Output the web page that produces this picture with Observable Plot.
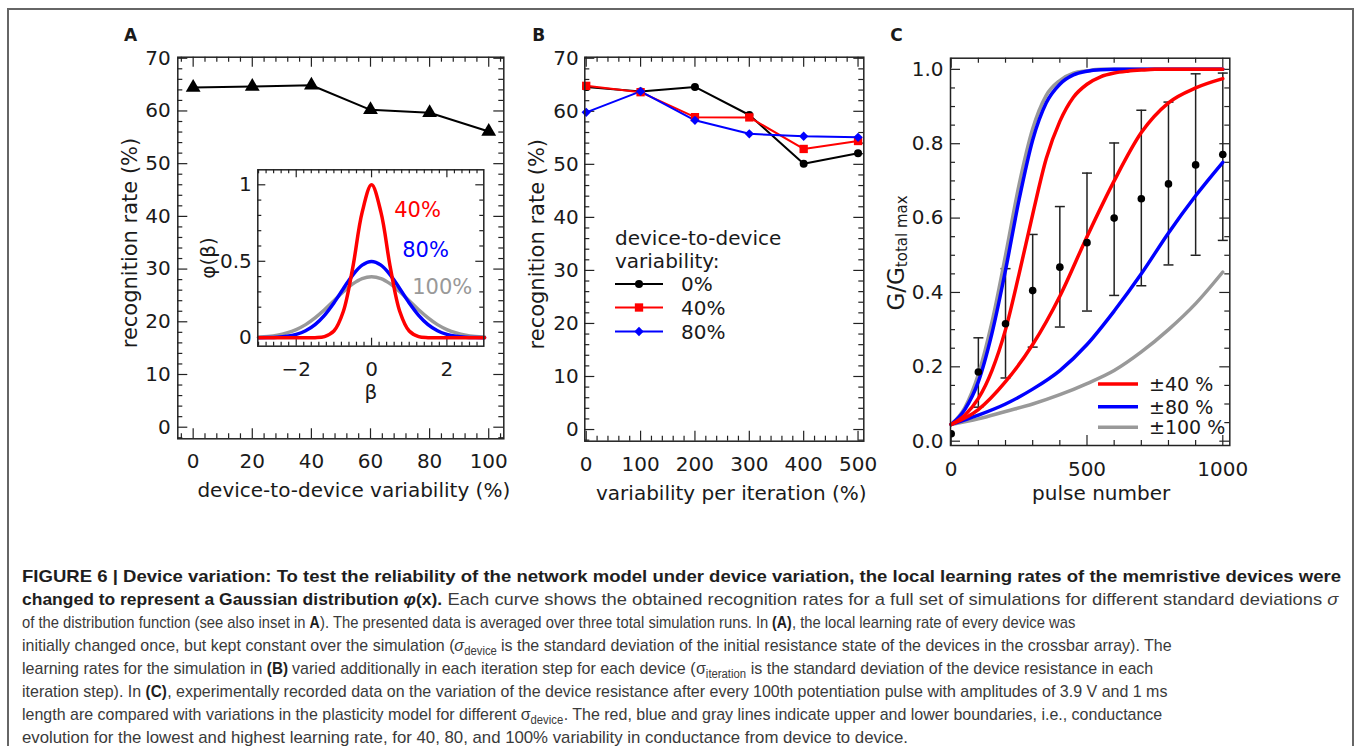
<!DOCTYPE html>
<html>
<head>
<meta charset="utf-8">
<script src="https://cdn.jsdelivr.net/npm/d3@7"></script>
<script src="https://cdn.jsdelivr.net/npm/@observablehq/plot@0.6"></script>
<style>
  html, body { margin: 0; padding: 0; background: #fff; }
  #root { position: relative; width: 1358px; height: 746px; overflow: hidden; background: #fff; }
  #root svg { position: absolute; }
  .frameBorder { position: absolute; left: 7px; top: 8px; width: 1347px; height: 800px; border: 2px solid #666; border-bottom: none; box-sizing: border-box; }
  .cap { position: absolute; left: 22px; white-space: nowrap; font-family: "Liberation Sans", Arial, sans-serif; font-size: 17px; line-height: 23px; color: #3a3a3a; transform-origin: 0 50%; display: inline-block; }
  .seg { display: inline-block; white-space: pre; transform-origin: 0 50%; }
  .seg.b { font-weight: bold; color: #1e1e1e; }
  .seg.bi { font-weight: bold; font-style: italic; color: #1e1e1e; }
  .seg.ri { font-style: italic; }
  .seg.sub { font-size: 12px; vertical-align: -4px; }
</style>
</head>
<body>
<div id="root"><div class="frameBorder"></div></div>
<script>
// ---------------- DATA ----------------
// Panel A: recognition rate vs device-to-device variability
const varA = [0, 20, 40, 60, 80, 100];
const rateA = [64.45, 64.64, 64.88, 60.22, 59.65, 56.1];

// Panel A inset: distribution phi(beta)
const beta = [-3, -2.75, -2.5, -2.25, -2, -1.75, -1.5, -1.25, -1, -0.75, -0.5, -0.25, 0,
              0.25, 0.5, 0.75, 1, 1.25, 1.5, 1.75, 2, 2.25, 2.5, 2.75, 3];
const phi40 = [0, 0, 0, 0, 0, 0, 0.001, 0.008, 0.044, 0.172, 0.457, 0.82, 1.0,
               0.82, 0.457, 0.172, 0.044, 0.008, 0.001, 0, 0, 0, 0, 0, 0];
const phi80 = [0.0004, 0.0014, 0.0038, 0.0096, 0.022, 0.046, 0.086, 0.147, 0.228, 0.321, 0.41, 0.475, 0.499,
               0.475, 0.41, 0.321, 0.228, 0.147, 0.086, 0.046, 0.022, 0.0096, 0.0038, 0.0014, 0.0004];
const phi100 = [0.0044, 0.009, 0.0175, 0.032, 0.054, 0.086, 0.13, 0.183, 0.242, 0.301, 0.352, 0.387, 0.399,
                0.387, 0.352, 0.301, 0.242, 0.183, 0.13, 0.086, 0.054, 0.032, 0.0175, 0.009, 0.0044];
const insetLabels = ["40%", "80%", "100%"];

// Panel B: recognition rate vs variability per iteration
const iterB = [0, 100, 200, 300, 400, 500];
const rateB0 = [64.6, 63.75, 64.6, 59.3, 50.1, 52.1];
const rateB40 = [64.8, 63.6, 58.9, 58.85, 52.9, 54.4];
const rateB80 = [59.8, 63.75, 58.3, 55.75, 55.3, 55.1];
const legendB = ["0%", "40%", "80%"];

// Panel C: measured conductance (mean, lower, upper)
const pulses = [0, 100, 200, 300, 400, 500, 600, 700, 800, 900, 1000];
const gMean = [0.02, 0.186, 0.316, 0.405, 0.468, 0.534, 0.60, 0.652, 0.692, 0.743, 0.771];
const gLow  = [null, 0.0915, 0.170, 0.253, 0.307, 0.350, 0.392, 0.418, 0.474, 0.500, 0.540];
const gHigh = [null, 0.278, 0.464, 0.556, 0.631, 0.721, 0.802, 0.890, 0.912, 0.988, 0.99];

// Panel C: model boundary curves
const pulseFine = [0, 50, 100, 150, 200, 250, 300, 350, 400, 450, 500, 550, 600, 650, 700, 750, 800, 850, 900, 950, 1000];
const gray100Fast = [0.045, 0.09, 0.18, 0.32, 0.50, 0.69, 0.84, 0.93, 0.97, 0.99, 0.996, 1, 1, 1, 1, 1, 1, 1, 1, 1, 1];
const blue80Fast  = [0.045, 0.085, 0.16, 0.29, 0.46, 0.65, 0.81, 0.91, 0.96, 0.985, 0.995, 0.999, 1, 1, 1, 1, 1, 1, 1, 1, 1];
const red40Fast   = [0.045, 0.07, 0.115, 0.19, 0.30, 0.45, 0.61, 0.76, 0.86, 0.925, 0.96, 0.98, 0.99, 0.995, 0.998, 1, 1, 1, 1, 1, 1];
const pulseCoarse = [0, 100, 200, 300, 400, 500, 600, 700, 800, 900, 1000];
const red40Slow   = [0.045, 0.085, 0.16, 0.26, 0.39, 0.55, 0.70, 0.83, 0.91, 0.95, 0.975];
const blue80Slow  = [0.045, 0.07, 0.10, 0.14, 0.19, 0.26, 0.35, 0.45, 0.56, 0.66, 0.75];
const gray100Slow = [0.045, 0.06, 0.08, 0.10, 0.125, 0.155, 0.19, 0.24, 0.30, 0.37, 0.455];
const legendC = ["\u00b140 %", "\u00b180 %", "\u00b1100 %"];

// Tick values
const ticksA_x = [0, 20, 40, 60, 80, 100];
const ticksRate = [0, 10, 20, 30, 40, 50, 60, 70];
const ticksB_x = [0, 100, 200, 300, 400, 500];
const ticksC_x = [0, 500, 1000];
const ticksC_y = [0, 0.2, 0.4, 0.6, 0.8, 1.0];
const ticksIn_x = [-2, 0, 2];
const ticksIn_y = [0, 0.5, 1];

// Colours
const RED = "#ff0000", BLUE = "#0000ff", GRAY = "#999999", INK = "#1a1a1a";

// ---------------- HELPERS ----------------
function range(a, b, s) { const n = Math.round((b - a) / s); const o = []; for (let i = 0; i <= n; i++) o.push(+(a + i * s).toFixed(6)); return o; }
function minorOnly(all, majors) { return all.filter(v => !majors.some(m => Math.abs(m - v) < 1e-9)); }
const fmtNum = d => d < 0 ? "\u2212" + Math.abs(d) : String(d);
function frameTicks(cfg, xMaj, xMin, yMaj, yMin, maj, min) {
  const fh = cfg.height - cfg.marginTop - cfg.marginBottom;
  const fw = cfg.width - cfg.marginLeft - cfg.marginRight;
  const st = {stroke: "#222", strokeWidth: 1.2};
  const m = [];
  [[xMaj, maj], [xMin, min]].forEach(([v, len]) => {
    m.push(Plot.tickX(v, {x: d => d, insetTop: fh - len, ...st}));
    m.push(Plot.tickX(v, {x: d => d, insetBottom: fh - len, ...st}));
  });
  [[yMaj, maj], [yMin, min]].forEach(([v, len]) => {
    m.push(Plot.tickY(v, {y: d => d, insetRight: fw - len, ...st}));
    m.push(Plot.tickY(v, {y: d => d, insetLeft: fw - len, ...st}));
  });
  return m;
}
// centred text placed relative to a frame anchor
function label(txt, anchor, dx, dy, opts = {}) {
  return Plot.text([txt], {frameAnchor: anchor, dx, dy, textAnchor: "middle", lineAnchor: "middle", ...opts});
}
const baseStyle = {fontFamily: "DejaVu Sans", fontSize: "20px", color: INK, background: "transparent", overflow: "visible"};
const root = document.getElementById("root");
function place(svg, left, top) { svg.style.left = left + "px"; svg.style.top = top + "px"; root.appendChild(svg); }

// ---------------- PANEL A ----------------
const dataA = varA.map((v, i) => ({v, r: rateA[i]}));
const cfgA = {width: 430, height: 500, marginLeft: 87.3, marginRight: 16.7, marginTop: 56.7, marginBottom: 61.7};
const plotA = Plot.plot({
  ...cfgA,
  x: {domain: [-5.2, 105.1]},
  y: {domain: [-2.2, 70.2]},
  style: baseStyle,
  marks: [
    ...frameTicks(cfgA, ticksA_x, minorOnly(range(-4, 104, 4), ticksA_x), ticksRate, minorOnly(range(-2, 70, 2), ticksRate), 10, 5),
    Plot.axisX(ticksA_x, {tickSize: 0, tickPadding: 15, label: null, tickFormat: fmtNum}),
    Plot.axisY(ticksRate, {tickSize: 0, tickPadding: 7, label: null, tickFormat: fmtNum}),
    Plot.line(dataA, {x: "v", y: "r", stroke: "#000", strokeWidth: 2}),
    Plot.dot(dataA, {x: "v", y: "r", symbol: "triangle", r: 5.5, fill: "#000"}),
    Plot.frame({stroke: "#222", strokeWidth: 1.5}),
    label("recognition rate (%)", "left", -48, -5, {rotate: -90, fontSize: 21}),
    label("device-to-device variability (%)", "bottom", 13, 51.5, {fontSize: 20}),
    label("A", "top-left", -47.3, -21.7, {fontSize: 17, fontWeight: "bold"})
  ]
});
place(plotA, 90, 0);

// ---------------- INSET ----------------
const dataIn = [
  ...beta.map((b, i) => ({b, p: phi100[i], s: "100%"})),
  ...beta.map((b, i) => ({b, p: phi80[i], s: "80%"})),
  ...beta.map((b, i) => ({b, p: phi40[i], s: "40%"}))
];
const cfgIn = {width: 300, height: 245, marginLeft: 67.3, marginRight: 6.7, marginTop: 9.3, marginBottom: 59.3};
const plotIn = Plot.plot({
  ...cfgIn,
  x: {domain: [-3.02, 2.98]},
  y: {domain: [-0.055, 1.098]},
  color: {domain: ["40%", "80%", "100%"], range: [RED, BLUE, GRAY]},
  style: baseStyle,
  marks: [
    Plot.frame({fill: "white"}),
    ...frameTicks(cfgIn, ticksIn_x, minorOnly(range(-3, 2.8, 0.2), ticksIn_x), ticksIn_y, minorOnly(range(0, 1, 0.1), ticksIn_y), 8, 4),
    Plot.axisX(ticksIn_x, {tickSize: 0, tickPadding: 16, label: null, tickFormat: fmtNum}),
    Plot.axisY(ticksIn_y, {tickSize: 0, tickPadding: 6, label: null, tickFormat: fmtNum}),
    Plot.line(dataIn, {x: "b", y: "p", z: "s", stroke: "s", strokeWidth: 3.5, curve: "catmull-rom"}),
    Plot.frame({stroke: "#222", strokeWidth: 1.5}),
    label(insetLabels[0], "top-left", 159.7, 40.2, {fill: RED, fontSize: 21}),
    label(insetLabels[1], "top-left", 167.7, 80.7, {fill: BLUE, fontSize: 21}),
    label(insetLabels[2], "top-left", 184.4, 117.4, {fill: GRAY, fontSize: 21}),
    label("\u03b2", "bottom", 0, 46.5, {fontSize: 20}),
    label("\u03c6(\u03b2)", "left", -49, 0, {rotate: -90, fontSize: 20})
  ]
});
place(plotIn, 190, 160);

// ---------------- PANEL B ----------------
const dataB0 = iterB.map((v, i) => ({v, r: rateB0[i]}));
const dataB40 = iterB.map((v, i) => ({v, r: rateB40[i]}));
const dataB80 = iterB.map((v, i) => ({v, r: rateB80[i]}));
const cfgB = {width: 360, height: 500, marginLeft: 64.3, marginRight: 16.7, marginTop: 56.7, marginBottom: 59.3};
const plotB = Plot.plot({
  ...cfgB,
  x: {domain: [-2.6, 510.6]},
  y: {domain: [-2.2, 70.2]},
  style: baseStyle,
  marks: [
    ...frameTicks(cfgB, ticksB_x, minorOnly(range(0, 500, 20), ticksB_x), ticksRate, minorOnly(range(-2, 70, 2), ticksRate), 10, 5),
    Plot.axisX(ticksB_x, {tickSize: 0, tickPadding: 15.5, label: null, tickFormat: fmtNum}),
    Plot.axisY(ticksRate, {tickSize: 0, tickPadding: 6, label: null, tickFormat: fmtNum}),
    Plot.line(dataB0, {x: "v", y: "r", stroke: "#000", strokeWidth: 2}),
    Plot.line(dataB40, {x: "v", y: "r", stroke: RED, strokeWidth: 2}),
    Plot.line(dataB80, {x: "v", y: "r", stroke: BLUE, strokeWidth: 2}),
    Plot.dot(dataB0, {x: "v", y: "r", symbol: "circle", r: 4, fill: "#000"}),
    Plot.dot(dataB40, {x: "v", y: "r", symbol: "square", r: 4.7, fill: RED}),
    Plot.dot(dataB80, {x: "v", y: "r", symbol: "diamond2", r: 4.2, fill: BLUE}),
    Plot.frame({stroke: "#222", strokeWidth: 1.5}),
    label("recognition rate (%)", "left", -47.6, -5, {rotate: -90, fontSize: 21}),
    label("variability per iteration (%)", "bottom", 7, 52.6, {fontSize: 20}),
    label("B", "top-left", -46, -21.7, {fontSize: 17, fontWeight: "bold"})
  ]
});
place(plotB, 520, 0);

// ---------------- PANEL C ----------------
const dataMeas = pulses.map((p, i) => ({p, m: gMean[i], lo: gLow[i], hi: gHigh[i]}));
const dataBars = dataMeas.filter(d => d.hi != null);
const curvesC = [
  ...pulseCoarse.map((p, i) => ({p, g: gray100Slow[i], k: "gs", c: GRAY})),
  ...pulseFine.map((p, i) => ({p, g: gray100Fast[i], k: "gf", c: GRAY})),
  ...pulseCoarse.map((p, i) => ({p, g: blue80Slow[i], k: "bs", c: BLUE})),
  ...pulseFine.map((p, i) => ({p, g: blue80Fast[i], k: "bf", c: BLUE})),
  ...pulseCoarse.map((p, i) => ({p, g: red40Slow[i], k: "rs", c: RED})),
  ...pulseFine.map((p, i) => ({p, g: red40Fast[i], k: "rf", c: RED}))
];
const capSymbol = {draw(ctx, size) { const w = Math.sqrt(size / Math.PI); ctx.moveTo(-w, 0); ctx.lineTo(w, 0); }};
const cfgC = {width: 380, height: 500, marginLeft: 80, marginRight: 20.7, marginTop: 57.7, marginBottom: 55};
const plotC = Plot.plot({
  ...cfgC,
  x: {domain: [-2.6, 1025.8]},
  y: {domain: [-0.0116, 1.03]},
  style: baseStyle,
  marks: [
    ...frameTicks(cfgC, ticksC_x, minorOnly(range(0, 1000, 100), ticksC_x), ticksC_y, minorOnly(range(0, 1, 0.05), ticksC_y), 10, 5),
    Plot.axisX(ticksC_x, {tickSize: 0, tickPadding: 16, label: null, tickFormat: fmtNum}),
    Plot.axisY(ticksC_y, {tickSize: 0, tickPadding: 7, label: null, tickFormat: d3.format(".1f")}),
    Plot.ruleX(dataBars, {x: "p", y1: "lo", y2: "hi", stroke: "#222", strokeWidth: 1.5}),
    Plot.dot(dataBars, {x: "p", y: "hi", symbol: capSymbol, r: 5, fill: "none", stroke: "#222", strokeWidth: 1.5}),
    Plot.dot(dataBars, {x: "p", y: "lo", symbol: capSymbol, r: 5, fill: "none", stroke: "#222", strokeWidth: 1.5}),
    Plot.line(curvesC, {x: "p", y: "g", z: "k", stroke: "c", strokeWidth: 3.5, curve: "monotone-x"}),
    Plot.dot(dataMeas, {x: "p", y: "m", r: 3.8, fill: "#000", clip: true}),
    Plot.frame({stroke: "#222", strokeWidth: 1.5}),
    label("pulse number", "bottom", 11, 48.3, {fontSize: 20}),
    label("C", "top-left", -54, -22.7, {fontSize: 17, fontWeight: "bold"})
  ]
});
place(plotC, 870, 0);

// ---------------- OVERLAY: legends & composite label ----------------
const ov = d3.select(root).append("svg")
  .attr("width", 1358).attr("height", 746)
  .style("left", "0px").style("top", "0px").style("pointer-events", "none")
  .style("font-family", "DejaVu Sans").style("font-size", "20px").style("fill", INK);

// Legend B
ov.append("text").attr("x", 615).attr("y", 238).attr("dominant-baseline", "central").text("device-to-device");
ov.append("text").attr("x", 615).attr("y", 261).attr("dominant-baseline", "central").text("variability:");
const legBStyle = [
  {c: "#000", sym: d3.symbolCircle, r: 4},
  {c: RED, sym: d3.symbolSquare, r: 4.7},
  {c: BLUE, sym: d3.symbolDiamond2, r: 4.2}
];
const legBY = [284, 307.5, 331.5];
legendB.forEach((lab, i) => {
  const s = legBStyle[i];
  ov.append("line").attr("x1", 615).attr("x2", 663).attr("y1", legBY[i]).attr("y2", legBY[i]).attr("stroke", s.c).attr("stroke-width", 2);
  ov.append("path").attr("d", d3.symbol(s.sym, Math.PI * s.r * s.r)()).attr("transform", `translate(639,${legBY[i]})`).attr("fill", s.c);
  ov.append("text").attr("x", 681).attr("y", legBY[i]).attr("dominant-baseline", "central").text(lab);
});

// Legend C
const legCY = [384, 406.7, 427.3];
const legCColor = [RED, BLUE, GRAY];
legendC.forEach((lab, i) => {
  ov.append("line").attr("x1", 1098).attr("x2", 1138).attr("y1", legCY[i]).attr("y2", legCY[i]).attr("stroke", legCColor[i]).attr("stroke-width", 3.5);
  ov.append("text").attr("x", 1149).attr("y", legCY[i]).attr("dominant-baseline", "central").style("font-size", "19px").text(lab);
});

// Panel C y label with subscript
const yl = ov.append("text").attr("transform", "translate(904,253) rotate(-90)").attr("text-anchor", "middle").style("font-size", "23px");
yl.append("tspan").text("G/G");
yl.append("tspan").attr("dy", 3).style("font-size", "15px").text("total max");

// ---------------- CAPTION ----------------
const capSegs = [
  [["b", "FIGURE 6 | Device variation: To test the reliability of the network model under device variation, the local learning rates of the memristive devices were"]],
  [["b", "changed to represent a Gaussian distribution "], ["bi", "\u03c6"], ["b", "(x)."], ["r", " Each curve shows the obtained recognition rates for a full set of simulations for different standard deviations "], ["ri", "\u03c3"]],
  [["r", "of the distribution function (see also inset in "], ["b", "A"], ["r", "). The presented data is averaged over three total simulation runs. In "], ["b", "(A)"], ["r", ", the local learning rate of every device was"]],
  [["r", "initially changed once, but kept constant over the simulation ("], ["ri", "\u03c3"], ["sub", "device"], ["r", " is the standard deviation of the initial resistance state of the devices in the crossbar array). The"]],
  [["r", "learning rates for the simulation in "], ["b", "(B)"], ["r", " varied additionally in each iteration step for each device ("], ["r", "\u03c3"], ["sub", "iteration"], ["r", " is the standard deviation of the device resistance in each"]],
  [["r", "iteration step). In "], ["b", "(C)"], ["r", ", experimentally recorded data on the variation of the device resistance after every 100th potentiation pulse with amplitudes of 3.9 V and 1 ms"]],
  [["r", "length are compared with variations in the plasticity model for different "], ["r", "\u03c3"], ["sub", "device"], ["r", ". The red, blue and gray lines indicate upper and lower boundaries, i.e., conductance"]],
  [["r", "evolution for the lowest and highest learning rate, for 40, 80, and 100% variability in conductance from device to device."]]
];
const capRight = [1341, 1338, 1075, 1172, 1153, 1167, 1162, 908];
const segScale = {b: 1.0, bi: 1.0, r: 1.05, ri: 1.05, sub: 1.05};
capSegs.forEach((segs, k) => {
  const line = document.createElement("div");
  line.className = "cap";
  line.style.top = (565 + 23 * k) + "px";
  root.appendChild(line);
  segs.forEach(([type, txt]) => {
    const sp = document.createElement("span");
    sp.className = "seg " + type;
    sp.textContent = txt;
    line.appendChild(sp);
    const w = sp.getBoundingClientRect().width;
    const f = segScale[type];
    sp.style.transform = `scaleX(${f})`;
    sp.style.marginRight = (-(1 - f) * w) + "px";
  });
  const w = line.getBoundingClientRect().width;
  const target = capRight[k] - 22;
  if (w > 0) line.style.transform = `scaleX(${target / w})`;
});
</script>
</body>
</html>
